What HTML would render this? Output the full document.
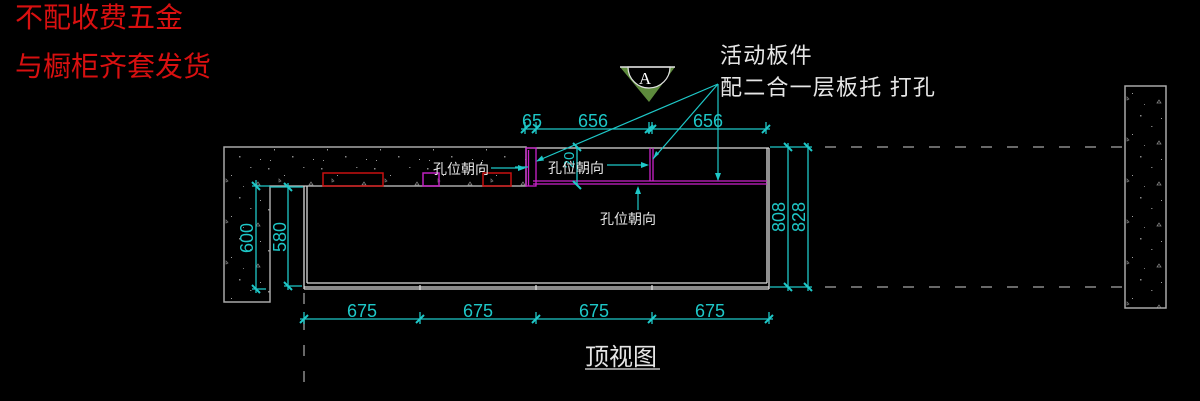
<!DOCTYPE html>
<html><head><meta charset="utf-8"><style>
html,body{margin:0;padding:0;background:#000;}
svg{display:block;}
.cj{font-family:"Liberation Sans","Noto Sans CJK SC",sans-serif;}
</style></head><body>
<svg width="1200" height="401" viewBox="0 0 1200 401" xmlns="http://www.w3.org/2000/svg">
<defs>
<pattern id="sp" width="53" height="41" patternUnits="userSpaceOnUse">
<rect x="3" y="4" width="1.5" height="1.5" fill="#8a8a8a"/>
<rect x="19" y="11" width="1" height="1" fill="#a0a0a0"/>
<rect x="38" y="3" width="1.5" height="1" fill="#777"/>
<path d="M44 21 l2 -3 l2 3 z" fill="none" stroke="#888" stroke-width="0.7"/>
<rect x="9" y="26" width="1" height="1.5" fill="#999"/>
<rect x="27" y="33" width="1.5" height="1.5" fill="#888"/>
<path d="M14 15 l2 2 l-2 1 z" fill="none" stroke="#777" stroke-width="0.7"/>
<rect x="48" y="36" width="1" height="1" fill="#a0a0a0"/>
<rect x="31" y="22" width="1" height="1" fill="#777"/>
<rect x="5" y="37" width="1" height="1" fill="#999"/>
</pattern>
</defs>
<rect width="1200" height="401" fill="#000"/>

<!-- red note -->
<text x="15" y="27" class="cj" font-size="28" fill="#d81010">不配收费五金</text>
<text x="15" y="76" class="cj" font-size="28" fill="#d81010">与橱柜齐套发货</text>

<!-- countertop with speckle -->
<path d="M224 147 H526 V186 H270 V302 H224 Z" fill="url(#sp)" stroke="#a8a8a8" stroke-width="1.5"/>
<!-- right wall -->
<rect x="1125" y="86" width="41" height="222" fill="url(#sp)" stroke="#a8a8a8" stroke-width="1.5"/>

<!-- cabinet box -->
<g stroke="#dcdcdc" stroke-width="1.3" fill="none">
<line x1="526" y1="148" x2="769" y2="148"/>
<line x1="304" y1="186" x2="304" y2="289"/>
<line x1="307" y1="186" x2="307" y2="283"/>
<line x1="767" y1="148" x2="767" y2="283"/>
<line x1="769" y1="148" x2="769" y2="289"/>
<line x1="307" y1="283" x2="767" y2="283"/>
<line x1="304" y1="287" x2="769" y2="287"/>
<line x1="304" y1="289" x2="769" y2="289"/>
<line x1="420" y1="285" x2="420" y2="290"/>
<line x1="536" y1="285" x2="536" y2="290"/>
<line x1="652" y1="285" x2="652" y2="290"/>
</g>

<!-- red / magenta blocks on countertop -->
<g fill="none" stroke-width="1.5">
<rect x="323" y="173" width="60" height="13" stroke="#c81010"/>
<rect x="483" y="173" width="28" height="13" stroke="#c81010"/>
<rect x="423" y="173" width="16" height="13" stroke="#c020c0"/>
</g>

<!-- magenta panels -->
<g fill="none" stroke="#cc22cc" stroke-width="1.3">
<rect x="526" y="148" width="10" height="38"/>
<line x1="528.5" y1="150" x2="528.5" y2="186"/>
<line x1="533" y1="181" x2="767" y2="181"/>
<line x1="533" y1="184" x2="767" y2="184"/>
<line x1="650" y1="148" x2="650" y2="181"/>
<line x1="653" y1="148" x2="653" y2="181"/>
</g>

<!-- dashed lines -->
<g stroke="#8a8a8a" stroke-width="1.5" stroke-dasharray="11 15">
<line x1="825" y1="147" x2="1125" y2="147"/>
<line x1="825" y1="287" x2="1125" y2="287"/>
<line x1="304" y1="293" x2="304" y2="386"/>
</g>

<!-- dimensions (cyan) -->
<g stroke="#1ec8c8" stroke-width="1.3" fill="none">
<line x1="521" y1="129" x2="770" y2="129"/>
<line x1="525" y1="122" x2="525" y2="134"/>
<line x1="536" y1="122" x2="536" y2="134"/>
<line x1="649" y1="122" x2="649" y2="134"/>
<line x1="652" y1="122" x2="652" y2="134"/>
<line x1="766" y1="122" x2="766" y2="134"/>
<line x1="300" y1="319" x2="773" y2="319"/>
<line x1="304" y1="312" x2="304" y2="324"/>
<line x1="420" y1="312" x2="420" y2="324"/>
<line x1="536" y1="312" x2="536" y2="324"/>
<line x1="652" y1="312" x2="652" y2="324"/>
<line x1="769" y1="312" x2="769" y2="324"/>
<line x1="770" y1="147" x2="812" y2="147"/>
<line x1="770" y1="287" x2="812" y2="287"/>
<line x1="788" y1="143" x2="788" y2="291"/>
<line x1="808" y1="143" x2="808" y2="291"/>
<line x1="256" y1="180" x2="256" y2="293"/>
<line x1="252" y1="186" x2="270" y2="186"/>
<line x1="252" y1="289" x2="266" y2="289"/>
<line x1="288" y1="183" x2="288" y2="290"/>
<line x1="270" y1="187" x2="303" y2="187"/>
<line x1="284" y1="286" x2="302" y2="286"/>
<line x1="577" y1="147" x2="577" y2="185"/>
</g>
<g stroke="#1ec8c8" stroke-width="2" fill="none">
<path d="M521 133 l8 -8 M532 133 l8 -8 M645 133 l8 -8 M648 133 l8 -8 M762 133 l8 -8"/>
<path d="M300 323 l8 -8 M416 323 l8 -8 M532 323 l8 -8 M648 323 l8 -8 M765 323 l8 -8"/>
<path d="M784 143 l8 8 M784 283 l8 8 M804 143 l8 8 M804 283 l8 8"/>
<path d="M252 182 l8 8 M252 285 l8 8 M284 183 l8 8 M284 282 l8 8"/>
<path d="M573 143 l8 8 M573 181 l8 8"/>
</g>

<!-- leaders -->
<g stroke="#1ec8c8" stroke-width="1.2" fill="none">
<line x1="718" y1="84" x2="537" y2="161"/>
<line x1="718" y1="84" x2="653" y2="159"/>
<line x1="718" y1="84" x2="718" y2="180"/>
<line x1="491" y1="168" x2="524" y2="168"/>
<line x1="607" y1="165" x2="647" y2="165"/>
<line x1="638" y1="210" x2="638" y2="188"/>
<line x1="515" y1="167" x2="528" y2="167"/>
</g>
<g fill="#1ec8c8">
<path d="M536 161.5 l8 -1 l-2 -5 z"/>
<path d="M653 159 l3 -8 l3 3 z"/>
<path d="M718 181 l-3 -8 h6 z"/>
<path d="M526 168 l-8 -3 v6 z"/>
<path d="M649 165 l-8 -3 v6 z"/>
<path d="M638 186 l-3 8 h6 z"/>
</g>

<!-- cyan dimension text -->
<g class="cj" font-size="18" fill="#1ec8c8" text-anchor="middle">
<text x="532" y="127">65</text>
<text x="593" y="127">656</text>
<text x="708" y="127">656</text>
<text x="362" y="317">675</text>
<text x="478" y="317">675</text>
<text x="594" y="317">675</text>
<text x="710" y="317">675</text>
<text transform="translate(785 217) rotate(-90)">808</text>
<text transform="translate(805 217) rotate(-90)">828</text>
<text transform="translate(253 238) rotate(-90)">600</text>
<text transform="translate(286 237) rotate(-90)">580</text>
<text transform="translate(574 160) rotate(-90)" font-size="15">20</text>
</g>

<!-- white labels -->
<g class="cj" fill="#e6e6e6">
<text x="433" y="174" font-size="14">孔位朝向</text>
<text x="548" y="173" font-size="14">孔位朝向</text>
<text x="600" y="224" font-size="14">孔位朝向</text>
<text x="720" y="63" font-size="22" letter-spacing="1.2">活动板件</text>
<text x="720" y="95" font-size="22" letter-spacing="1.2">配二合一层板托 打孔</text>
<text x="585" y="365" font-size="24">顶视图</text>
</g>
<line x1="585" y1="369" x2="660" y2="369" stroke="#e6e6e6" stroke-width="1.3"/>

<!-- section marker A -->
<polygon points="620,67 675,67 649,102" fill="#5d8a3c"/>
<path d="M628 67 A21 21 0 0 0 670 67 Z" fill="#000" stroke="#e0e0e0" stroke-width="1.2"/>
<line x1="620" y1="67" x2="675" y2="67" stroke="#e0e0e0" stroke-width="1.5"/>
<text x="645" y="84" font-family="Liberation Serif, serif" font-size="17" fill="#fff" text-anchor="middle">A</text>
</svg>
</body></html>
